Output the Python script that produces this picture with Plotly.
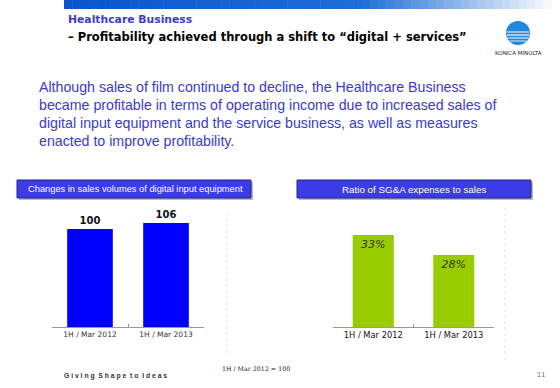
import math
import plotly.graph_objects as go

# ---- data ----
left_categories = ["1H / Mar 2012", "1H / Mar 2013"]
left_values = [100, 106]
left_labels = ["100", "106"]

right_categories = ["1H / Mar 2012", "1H / Mar 2013"]
right_values = [33, 28]
right_labels = ["33%", "28%"]

W, H = 560, 388

def px(x):
    return x / W

def py(y):
    return 1 - y / H

fig = go.Figure()

fig.add_trace(go.Bar(
    x=left_categories, y=left_values, text=left_labels,
    textposition="outside", cliponaxis=False,
    textfont=dict(family="DejaVu Sans", size=10, color="#111111"),
    texttemplate="<b>%{text}</b>",
    marker=dict(color="#0000ff", line=dict(width=0)),
    width=0.6, xaxis="x", yaxis="y", hoverinfo="skip",
))
fig.add_trace(go.Bar(
    x=right_categories, y=right_values, text=right_labels,
    textposition="inside", insidetextanchor="end", constraintext="none",
    textangle=0,
    textfont=dict(family="DejaVu Sans", size=11, color="#333300", style="italic"),
    marker=dict(color="#99cc00", line=dict(width=0)),
    width=0.51, xaxis="x2", yaxis="y2", hoverinfo="skip",
))

ybot, ytop = 327, 205
axis_common = dict(showgrid=False, zeroline=False, fixedrange=True)
fig.update_layout(
    width=W, height=H, margin=dict(l=0, r=0, t=0, b=0, autoexpand=False),
    paper_bgcolor="white", plot_bgcolor="rgba(0,0,0,0)",
    showlegend=False,
    xaxis=dict(domain=[px(52), px(204)], anchor="y", showline=True, linecolor="#999999",
               linewidth=1, ticks="inside", tickson="boundaries", ticklen=3,
               tickcolor="#999999",
               tickfont=dict(family="DejaVu Sans", size=7.5, color="#333333"),
               **axis_common),
    yaxis=dict(domain=[py(ybot), py(ytop)], anchor="x", range=[0, (ybot - ytop) / 0.98],
               visible=False, **axis_common),
    xaxis2=dict(domain=[px(333), px(494)], anchor="y2", showline=True, linecolor="#999999",
                linewidth=1, ticks="inside", tickson="boundaries", ticklen=3,
                tickcolor="#999999",
                tickfont=dict(family="DejaVu Sans", size=8.3, color="#111111"),
                **axis_common),
    yaxis2=dict(domain=[py(ybot), py(ytop)], anchor="x2", range=[10, 40.5],
                visible=False, **axis_common),
)

shapes = []
# top gradient bar
x0, x1 = 64, 560
n = 60
c_left = (10, 85, 205)
c_mid = (30, 110, 215)
c_right = (255, 255, 255)
for i in range(n):
    t = i / (n - 1)
    if t < 0.6:
        u = t / 0.6
        c = tuple(int(c_left[k] + (c_mid[k] - c_left[k]) * u) for k in range(3))
    else:
        u = (t - 0.6) / 0.4
        c = tuple(int(c_mid[k] + (c_right[k] - c_mid[k]) * u) for k in range(3))
    xa = x0 + (x1 - x0) * i / n
    xb = x0 + (x1 - x0) * (i + 1) / n + 0.5
    shapes.append(dict(type="rect", xref="paper", yref="paper",
                       x0=px(xa), x1=px(xb), y0=py(9), y1=py(0),
                       fillcolor="rgb(%d,%d,%d)" % c, line=dict(width=0)))

# logo circle
cx, cy, r = 518, 33, 12
shapes.append(dict(type="circle", xref="paper", yref="paper",
                   x0=px(cx - r), x1=px(cx + r), y0=py(cy + r), y1=py(cy - r),
                   fillcolor="#1e88e0", line=dict(width=0)))
for dy, lw in [(-1, 1.2), (2, 1.4), (5, 1.2), (8, 1)]:
    hw = math.sqrt(max(r * r - dy * dy, 0)) - 0.5
    shapes.append(dict(type="line", xref="paper", yref="paper",
                       x0=px(cx - hw), x1=px(cx + hw), y0=py(cy + dy), y1=py(cy + dy),
                       line=dict(color="rgba(255,255,255,0.85)", width=lw)))

# header boxes
for (bx0, bx1) in [(17, 251), (297, 531)]:
    shapes.append(dict(type="rect", xref="paper", yref="paper",
                       x0=px(bx0 + 2), x1=px(bx1 + 2), y0=py(200), y1=py(182),
                       fillcolor="#bbbbbb", line=dict(width=0)))
    shapes.append(dict(type="rect", xref="paper", yref="paper",
                       x0=px(bx0), x1=px(bx1), y0=py(198), y1=py(180),
                       fillcolor="#3c3ce6", line=dict(color="#22228a", width=1)))

# faint dotted guide lines
for xx, ya, yb in [(227, 210, 353), (505, 208, 360)]:
    shapes.append(dict(type="line", xref="paper", yref="paper",
                       x0=px(xx), x1=px(xx), y0=py(yb), y1=py(ya),
                       line=dict(color="#e2e2e2", width=1, dash="dot"), layer="below"))
fig.update_layout(shapes=shapes)

ann = []
def text(x, y, s, size, color, family="DejaVu Sans", xanchor="left", **kw):
    ann.append(dict(xref="paper", yref="paper", x=px(x), y=py(y), text=s,
                    showarrow=False, xanchor=xanchor, yanchor="middle",
                    font=dict(family=family, size=size, color=color), **kw))

text(66, 19, "<b>Healthcare Business</b>", 10.8, "#3b3bd0")
text(66, 37, "<b>– Profitability achieved through a shift to “digital + services”</b>", 11.5, "#000000")
text(518, 53, "KONICA MINOLTA", 5.5, "#222222", xanchor="center")

para = [
    "Although sales of film continued to decline, the Healthcare Business",
    "became profitable in terms of operating income due to increased sales of",
    "digital input equipment and the service business, as well as measures",
    "enacted to improve profitability.",
]
for i, line in enumerate(para):
    text(37, 87 + i * 18, line, 14.2, "#3a3acc", family="Liberation Sans")

text(135, 189, "Changes in sales volumes of digital input equipment", 9.3, "#ffffff",
     family="Liberation Sans", xanchor="center")
text(414, 189, "Ratio of SG&amp;A expenses to sales", 9.8, "#ffffff",
     family="Liberation Sans", xanchor="center")

text(256, 368, "1H / Mar 2012 = 100", 6.3, "#222222", family="DejaVu Serif", xanchor="center")
text(62, 376, "<b>G i v i n g  S h a p e  t o  I d e a s</b>", 6.8, "#333333", family="Liberation Sans")
text(541, 375, "11", 6.5, "#666666", xanchor="center")

fig.update_layout(annotations=ann)

fig.write_html(
    "out.html",
    config={"displayModeBar": False, "staticPlot": True},
    post_script="document.body.style.margin='0px';",
)
